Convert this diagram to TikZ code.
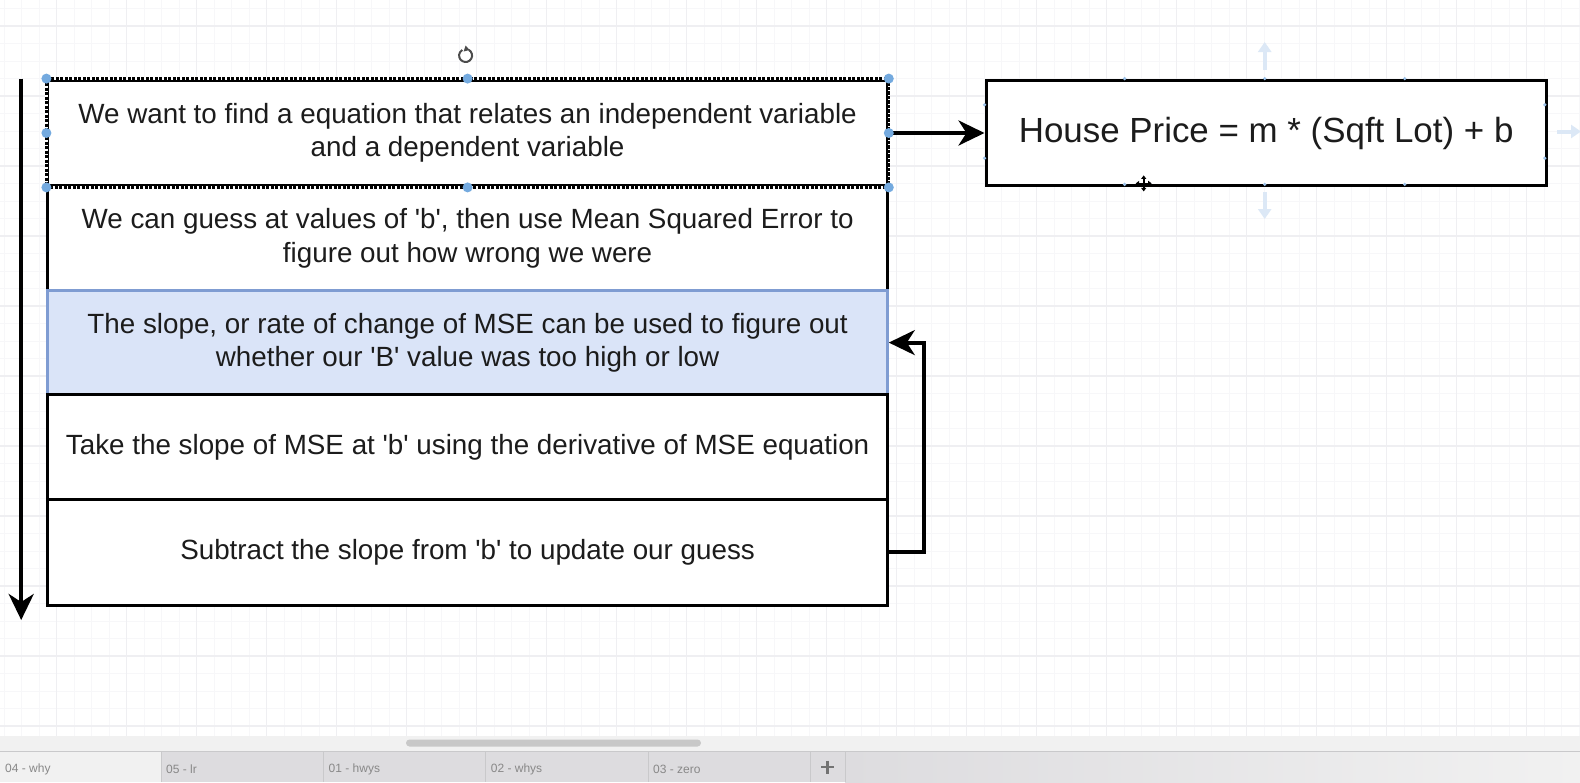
\documentclass[tikz,border=0pt]{standalone}
\usepackage{fontspec}
\setmainfont{Liberation Sans}
\usetikzlibrary{arrows.meta,calc}
\newcommand\sq{\textquotesingle}
\definecolor{gridminor}{HTML}{F7F7F9}
\definecolor{gridmajor}{HTML}{EFEFF2}
\definecolor{txt}{HTML}{1C1C1C}
\definecolor{selfill}{HTML}{DAE4F8}
\definecolor{selborder}{HTML}{7F9CD2}
\definecolor{handle}{HTML}{74AADF}
\definecolor{hover}{HTML}{DCE8F6}
\definecolor{cpoint}{HTML}{9DC3EA}
\definecolor{strip}{HTML}{F1F1F1}
\definecolor{tabbar}{HTML}{DDDCDF}
\definecolor{tabactive}{HTML}{F1F1F1}
\definecolor{tabsep}{HTML}{C9C9CB}
\definecolor{tabtext}{HTML}{888888}
\definecolor{scroll}{HTML}{C8C8C8}
\begin{document}
\begin{tikzpicture}[x=1pt,y=-1pt,
  box/.style={draw=black, line width=3pt, fill=white, anchor=north west,
    minimum width=839.4pt, align=center, inner sep=0pt, text=txt,
    font=\fontsize{27.8}{33.4}\selectfont},
  selbox/.style={box, draw=selborder, fill=selfill},
  hpbox/.style={draw=black, line width=3pt, fill=white, anchor=north west,
    minimum width=560.3pt, minimum height=105.8pt, inner sep=0pt, text=txt,
    font=\fontsize{34.9}{42}\selectfont},
  conn/.style={line width=3.8pt, draw=black, -{Stealth[length=26pt,width=25pt,inset=8pt]}},
  hoverarrow/.style={line width=4pt, draw=hover, -{Triangle[length=10pt,width=13pt]}},
  handledot/.style={fill=handle, draw=none},
  tablabel/.style={anchor=west, text=tabtext, font=\fontsize{12}{14}\selectfont, inner sep=0pt}
]
\useasboundingbox (0,0) rectangle (1580,782);
\fill[white] (0,0) rectangle (1580,782);
% grid
\foreach \i in {0,...,90} \draw[gridminor, line width=1pt] ({4.2+17.5*\i},0) -- ({4.2+17.5*\i},736);
\foreach \j in {0,...,41} \draw[gridminor, line width=1pt] (0,{8.5+17.5*\j}) -- (1580,{8.5+17.5*\j});
\foreach \i in {0,...,21} \draw[gridmajor, line width=1.2pt] ({56.7+70*\i},0) -- ({56.7+70*\i},736);
\foreach \j in {0,...,10} \draw[gridmajor, line width=1.2pt] (0,{26+70*\j}) -- (1580,{26+70*\j});

% main boxes
\node (b1) [box, minimum height=105.8pt] at (46.4,78.6)
  {We want to find a equation that relates an independent variable\\and a dependent variable};
\node (b2) [box, minimum height=104.8pt] at (46.4,184.4)
  {We can guess at values of \sq b\sq, then use Mean Squared Error to\\figure out how wrong we were};
\node (b3) [selbox, minimum height=103.8pt] at (46.4,289.2)
  {The slope, or rate of change of MSE can be used to figure out\\whether our \sq B\sq{} value was too high or low};
\node (b4) [box, minimum height=104.8pt] at (46.4,393)
  {Take the slope of MSE at \sq b\sq{} using the derivative of MSE equation};
\node (b5) [box, minimum height=105.8pt] at (46.4,497.8)
  {Subtract the slope from \sq b\sq{} to update our guess};
% selection outline of box 1
\draw[white, line width=2.6pt] (b1.north west) rectangle (b1.south east);
\draw[black, line width=2.6pt, dash pattern=on 3.2pt off 1.3pt] (b1.north west) rectangle (b1.south east);

% house price box
\node (hp) [hpbox] at (984.5,78.6) {House Price = m * (Sqft Lot) + b};

% connectors
\coordinate (ltop) at (21.2,78.6);
\coordinate (lbot) at (21.2,620);
\draw[conn] (ltop) -- (lbot);
\draw[conn] (b1.east) -- (hp.west);
\draw[conn] (b5.east) -- ++(35,0) |- (b3.east);

% selection handles
\foreach \p in {b1.north west, b1.north, b1.north east, b1.west, b1.east, b1.south west, b1.south, b1.south east}
  \fill[handledot] (\p) circle (5pt);
% rotation icon
\coordinate (rot) at (465.6,55.5);
\draw[line width=2pt, color=black!70] ($(rot)+(-60:6.5)$) arc[start angle=-60, end angle=240, radius=6.5];
\fill[black!70] ($(rot)+(0,-10)$) -- ($(rot)+(4,-5.5)$) -- ($(rot)+(-2,-4)$) -- cycle;

% hover arrows and connection points around house price box
\coordinate (hu1) at (1264.7,70);
\coordinate (hu2) at (1264.7,42);
\coordinate (hd1) at (1264.7,192);
\coordinate (hd2) at (1264.7,219);
\coordinate (hr1) at (1557,131.5);
\coordinate (hr2) at (1581,131.5);
\draw[hoverarrow] (hu1) -- (hu2);
\draw[hoverarrow] (hd1) -- (hd2);
\draw[hoverarrow] (hr1) -- (hr2);
\foreach \x in {1124.6,1264.7,1404.7} {
  \fill[cpoint] (\x,78.6) circle (1.8pt);
  \fill[cpoint] (\x,184.4) circle (1.8pt);
}
\foreach \y in {104.8,158.2} {
  \fill[cpoint] (984.5,\y) circle (1.8pt);
  \fill[cpoint] (1544.8,\y) circle (1.8pt);
}
% move cursor
\coordinate (mv) at (1143.7,183.4);
\draw[line width=1.6pt, {Triangle[length=3.5pt,width=5pt]}-{Triangle[length=3.5pt,width=5pt]}] ($(mv)+(-8,0)$) -- ($(mv)+(8,0)$);
\draw[line width=1.6pt, {Triangle[length=3.5pt,width=5pt]}-{Triangle[length=3.5pt,width=5pt]}] ($(mv)+(0,-8)$) -- ($(mv)+(0,8)$);

% bottom UI
\fill[strip] (0,736) rectangle (1580,751);
\fill[scroll, rounded corners=3.5pt] (406,739.5) rectangle (701,746.5);
\shade[left color=tabbar, right color=tabactive] (845,751) rectangle (1580,782);
\fill[tabbar] (161,751) rectangle (845,782);
\fill[tabactive] (0,751) rectangle (161,782);
\draw[tabsep, line width=1pt] (0,751) -- (1580,751);
\foreach \x in {161,323.5,485.7,648,810,845}
  \draw[tabsep, line width=1pt] (\x,751) -- (\x,782);
\node[tablabel] (t1) at (5,769) {04 - why};
\node[tablabel] (t2) at (166,769) {05 - lr};
\node[tablabel] (t3) at (328.5,769) {01 - hwys};
\node[tablabel] (t4) at (490.7,769) {02 - whys};
\node[tablabel] (t5) at (653,769) {03 - zero};
\draw[line width=2.4pt, color=black!55] (821,767) -- (834,767);
\draw[line width=2.4pt, color=black!55] (827.5,760.5) -- (827.5,773.5);
\end{tikzpicture}
\end{document}
